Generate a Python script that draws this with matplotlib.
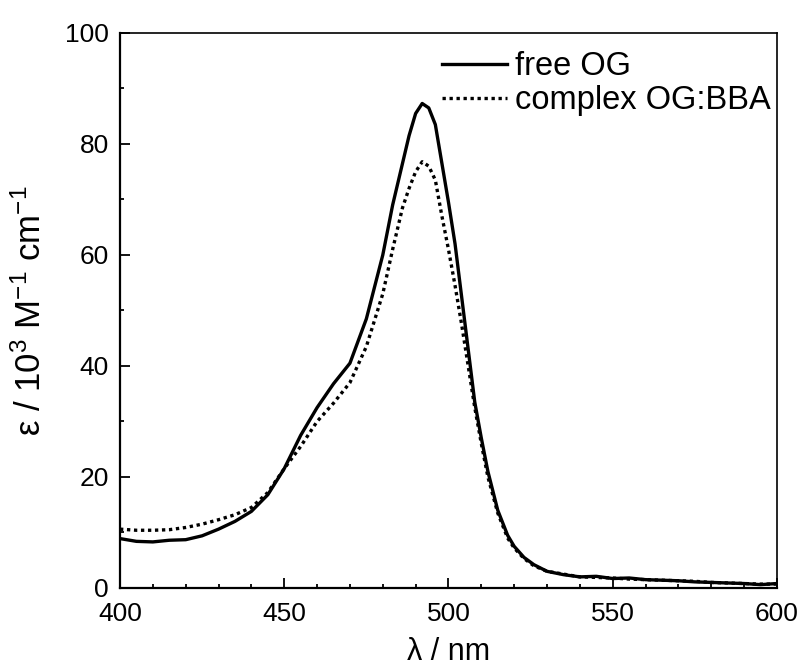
import matplotlib

matplotlib.use("Agg")
import matplotlib.pyplot as plt
from matplotlib.ticker import MultipleLocator

plt.rcParams["font.family"] = ["Liberation Sans", "DejaVu Sans"]
plt.rcParams["mathtext.fontset"] = "custom"
plt.rcParams["mathtext.rm"] = "Liberation Sans"
plt.rcParams["mathtext.default"] = "regular"

# wavelength grid (nm)
wavelength = [400, 405, 410, 415, 420, 425, 430, 435, 440, 445, 450, 455, 460, 465,
              470, 475, 480, 483, 486, 488, 490, 492, 494, 496, 498, 500, 502, 504,
              506, 508, 510, 512, 515, 518, 520, 523, 526, 530, 535, 540, 545, 550,
              555, 560, 565, 570, 575, 580, 585, 590, 595, 600]

# molar absorptivity, 10^3 M^-1 cm^-1
free_og = [8.9, 8.4, 8.3, 8.6, 8.7, 9.4, 10.6, 12.0, 13.8, 16.8, 21.5, 27.5, 32.5, 36.8,
           40.5, 48.5, 60.0, 69.0, 76.5, 81.5, 85.5, 87.3, 86.5, 83.5, 76.5, 69.5, 62.0,
           52.5, 43.0, 33.5, 27.0, 21.0, 14.0, 9.5, 7.5, 5.5, 4.2, 3.0, 2.4, 2.0, 2.1,
           1.7, 1.8, 1.5, 1.4, 1.3, 1.1, 1.0, 0.9, 0.8, 0.6, 0.8]
complex_og_bba = [10.6, 10.4, 10.4, 10.5, 10.9, 11.5, 12.3, 13.2, 14.5, 17.2, 21.5, 25.5,
                  30.0, 33.3, 37.0, 43.5, 53.0, 61.0, 68.5, 72.0, 75.0, 76.8, 76.0, 73.5,
                  67.0, 61.0, 54.5, 47.5, 40.0, 32.5, 26.0, 20.0, 13.5, 9.0, 7.2, 5.3,
                  4.0, 3.0, 2.5, 2.0, 1.9, 1.8, 1.6, 1.5, 1.4, 1.3, 1.2, 1.0, 0.9, 0.8,
                  0.7, 0.7]

fig = plt.figure(figsize=(8.01, 6.68), dpi=100)
ax = fig.add_axes([0.1498, 0.1198, 0.8202, 0.8308])

ax.plot(wavelength, free_og, color="black", lw=2.4, label="free OG")
ax.plot(wavelength, complex_og_bba, color="black", lw=2.4, ls=(0, (1, 1.1)),
        label="complex OG:BBA")

ax.set_xlim(400, 600)
ax.set_ylim(0, 100)
ax.xaxis.set_major_locator(MultipleLocator(50))
ax.xaxis.set_minor_locator(MultipleLocator(10))
ax.yaxis.set_major_locator(MultipleLocator(20))
ax.yaxis.set_minor_locator(MultipleLocator(10))
ax.tick_params(which="both", direction="in", labelsize=19, width=1.3)
ax.tick_params(which="major", length=7.5)
ax.tick_params(which="minor", length=3)
ax.tick_params(axis="x", pad=10)
ax.tick_params(axis="y", pad=8)
for side in ["left", "bottom"]:
    ax.spines[side].set_linewidth(1.6)
for side in ["top", "right"]:
    ax.spines[side].set_linewidth(1.2)

ax.set_xlabel("λ / nm", fontsize=22)
ax.xaxis.set_label_coords(0.5, -0.089)
ax.set_ylabel("ε / 10$^{3}$ M$^{-1}$ cm$^{-1}$", fontsize=25)
ax.yaxis.set_label_coords(-0.11, 0.5)

ax.legend(loc="upper right", bbox_to_anchor=(1.018, 1.0), frameon=False, fontsize=23.5,
          handlelength=2.0, handletextpad=0.25, labelspacing=0.1, borderaxespad=0.15)

fig.savefig("out.png", dpi=100)
